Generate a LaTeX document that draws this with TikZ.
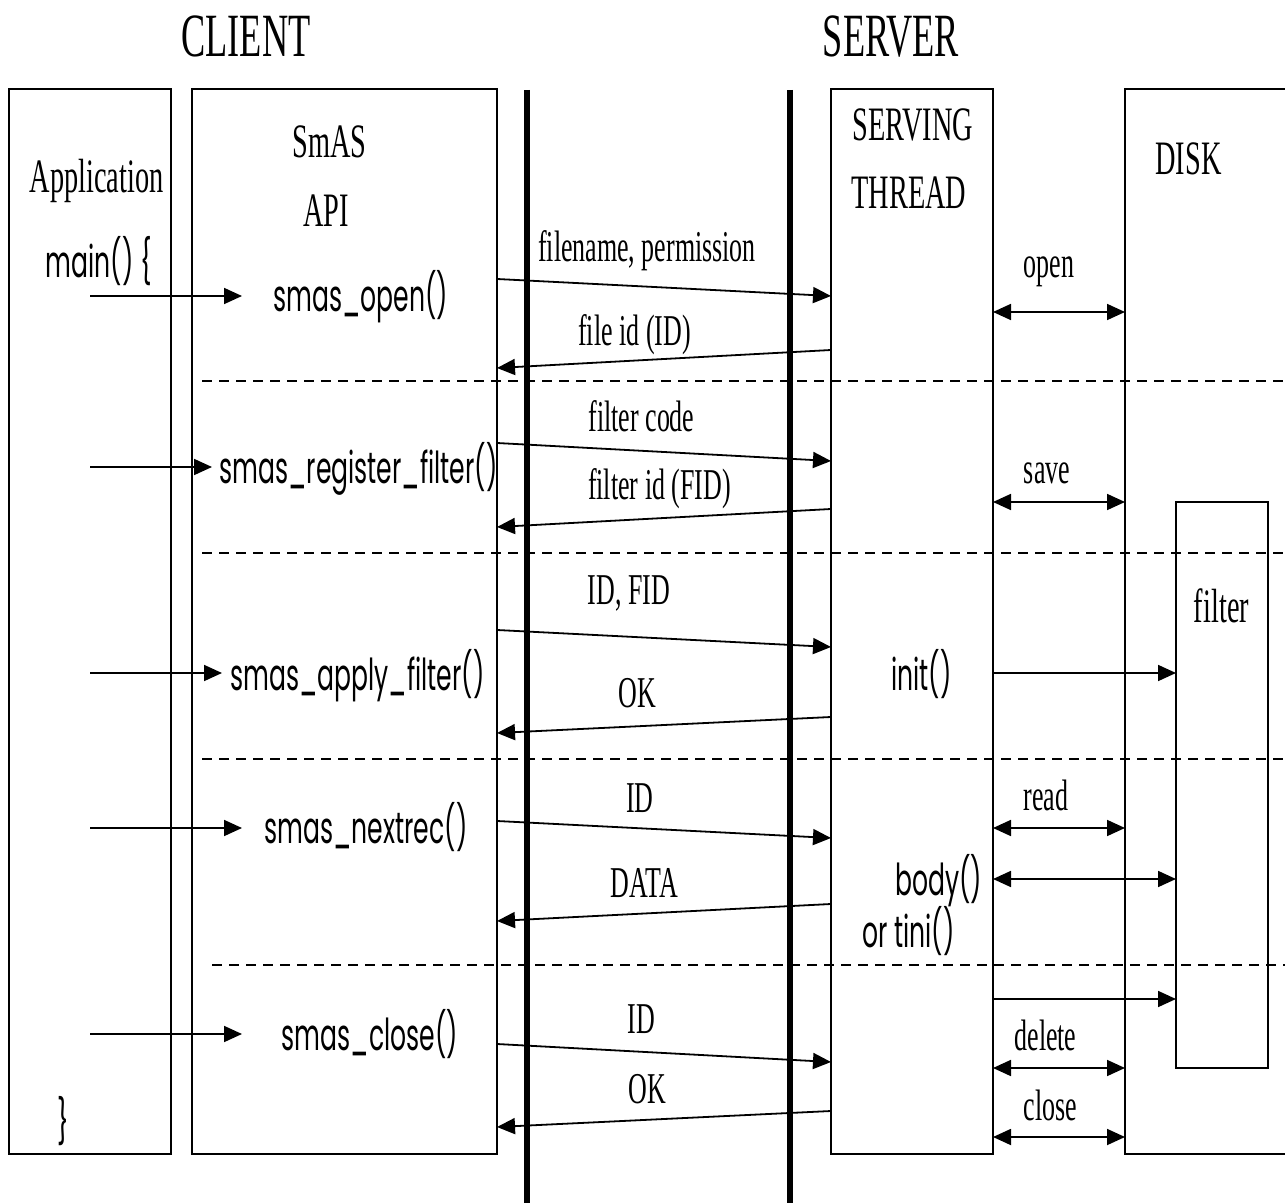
\documentclass[tikz,border=0pt]{standalone}
\usepackage{fontspec}
\setmainfont[FakeStretch=0.59]{Liberation Serif}
\newfontfamily\smasfont[FakeStretch=0.57]{Poppins}
\usetikzlibrary{arrows.meta, positioning, calc}

\tikzset{
    box/.style={draw, rectangle, line width=0.75pt, inner sep=0pt, outer sep=0pt},
    wire/.style={line width=3pt},
    sep/.style={line width=0.75pt, dash pattern=on 5pt off 3.5pt},
    msg/.style={line width=0.9pt, -{Triangle[length=9pt, width=8pt]}},
    both/.style={line width=0.9pt, {Triangle[length=9pt, width=8pt]}-{Triangle[length=9pt, width=8pt]}},
    ttl/.style={anchor=base, inner sep=0pt, font=\fontsize{30.75}{36}\selectfont},
    head/.style={anchor=base, inner sep=0pt, font=\fontsize{24}{29}\selectfont},
    lbl/.style={anchor=base, inner sep=0pt, font=\fontsize{22}{26}\selectfont},
    call/.style={anchor=base, inner sep=0pt, font=\smasfont\fontsize{22}{26}\selectfont},
}

\begin{document}
\begin{tikzpicture}[x=0.5pt, y=-0.5pt]
    \useasboundingbox (0,0) rectangle (1285,1203);
    \clip (0,0) rectangle (1285,1203);

    % titles
    \node[ttl] (client) at (246,57) {CLIENT};
    \node[ttl] (server) at (891,57) {SERVER};

    % boxes
    \node[box, minimum width=81pt, minimum height=532.5pt] (app) at (90,621.5) {};
    \node[box, minimum width=152.5pt, minimum height=532.5pt] (api) at (344.5,621.5) {};
    \node[box, minimum width=81pt, minimum height=532.5pt] (serv) at (912,621.5) {};
    \node[box, minimum width=100pt, minimum height=532.5pt] (disk) at (1225,621.5) {};
    \node[box, minimum width=46pt, minimum height=283pt] (filt) at (1222,785) {};

    % network
    \draw[wire] (527,90) -- (527,1203);
    \draw[wire] (790,90) -- (790,1203);

    % box headings
    \node[head] (apptxt) at (96.5,193) {Application};
    \node[head] (smas) at (329.5,158) {SmAS};
    \node[head] (apitxt) at (326,227) {API};
    \node[head] (serving) at (913,141) {SERVING};
    \node[head] (thread) at (909,209) {THREAD};
    \node[head] (disktxt) at (1188.5,175) {DISK};
    \node[head] (filttxt) at (1221.5,622) {filter};

    % separators
    \draw[sep] (202,381) -- (1285,381);
    \draw[sep] (202,553) -- (1285,553);
    \draw[sep] (202,759) -- (1285,759);
    \draw[sep] (212,965) -- (1285,965);

    % calls
    \node[call] (mainopen) at (99,278) {main() \{};
    \node[call] (mainclose) at (63.5,1137) {\}};
    \node[call] (open) at (360.5,312) {smas\_open()};
    \node[call] (reg) at (358.5,483) {smas\_register\_filter()};
    \node[call] (apply) at (357.5,690) {smas\_apply\_filter()};
    \node[call] (next) at (366,843) {smas\_nextrec()};
    \node[call] (close) at (370,1050) {smas\_close()};
    \node[call] (init) at (921.5,690) {init()};
    \node[call] (body) at (938.5,895) {body()};
    \node[call] (tini) at (908.5,947) {or tini()};

    \coordinate (in1) at (242,296);
    \coordinate (in2) at (212,467);
    \coordinate (in3) at (222,673);
    \coordinate (in4) at (242,828);
    \coordinate (in5) at (242,1034);
    \foreach \c in {in1,in2,in3,in4,in5}
        \draw[msg] (app.center |- \c) -- (\c);

    % messages
    \node[lbl] (m1) at (647,262) {filename, permission};
    \node[lbl] (m2) at (634.5,346) {file id (ID)};
    \node[lbl] (m3) at (641.5,432) {filter code};
    \node[lbl] (m4) at (659.5,500) {filter id (FID)};
    \node[lbl] (m5) at (629,604) {ID, FID};
    \node[lbl] (m6) at (637,707) {OK};
    \node[lbl] (m7) at (640,812) {ID};
    \node[lbl] (m8) at (644.5,897) {DATA};
    \node[lbl] (m9) at (641.5,1033) {ID};
    \node[lbl] (m10) at (647,1103) {OK};

    \draw[msg] (api.east |- 0,279) -- (serv.west |- 0,296);
    \draw[msg] (serv.west |- 0,350) -- (api.east |- 0,368);
    \draw[msg] (api.east |- 0,443) -- (serv.west |- 0,461);
    \draw[msg] (serv.west |- 0,509) -- (api.east |- 0,527);
    \draw[msg] (api.east |- 0,630) -- (serv.west |- 0,647);
    \draw[msg] (serv.west |- 0,717) -- (api.east |- 0,733);
    \draw[msg] (api.east |- 0,821) -- (serv.west |- 0,838);
    \draw[msg] (serv.west |- 0,904) -- (api.east |- 0,921);
    \draw[msg] (api.east |- 0,1044) -- (serv.west |- 0,1062);
    \draw[msg] (serv.west |- 0,1111) -- (api.east |- 0,1127);

    % disk access
    \node[lbl] (d1) at (1049,278) {open};
    \node[lbl] (d2) at (1047,484) {save};
    \node[lbl] (d3) at (1046,810) {read};
    \node[lbl] (d4) at (1045.5,1050) {delete};
    \node[lbl] (d5) at (1050.5,1120) {close};

    \draw[both] (serv.east |- 0,312) -- (disk.west |- 0,312);
    \draw[both] (serv.east |- 0,502) -- (disk.west |- 0,502);
    \draw[both] (serv.east |- 0,828) -- (disk.west |- 0,828);
    \draw[both] (serv.east |- 0,1068) -- (disk.west |- 0,1068);
    \draw[both] (serv.east |- 0,1137) -- (disk.west |- 0,1137);

    % filter calls
    \draw[msg] (serv.east |- 0,673) -- (filt.west |- 0,673);
    \draw[both] (serv.east |- 0,879) -- (filt.west |- 0,879);
    \draw[msg] (serv.east |- 0,999) -- (filt.west |- 0,999);
\end{tikzpicture}
\end{document}
